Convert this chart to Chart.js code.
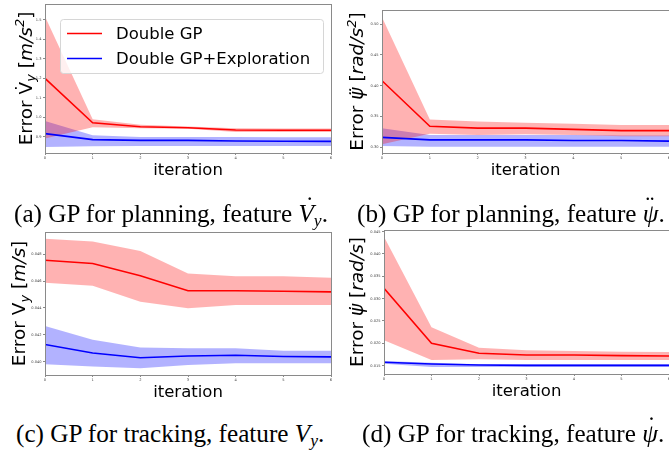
<!DOCTYPE html>
<html>
<head>
<meta charset="utf-8">
<script src="https://cdn.jsdelivr.net/npm/chart.js@4.4.1/dist/chart.umd.min.js"></script>
<style>
  body { margin: 0; width: 669px; height: 450px; overflow: hidden; background: #fff; position: relative; }
  canvas { position: absolute; }
  .cap { position: absolute; font-family: "Liberation Serif", serif; font-size: 25.2px; white-space: nowrap; color: #000; line-height: 1; }
  .cap i { font-style: italic; }
  .cap sub { font-size: 70%; vertical-align: -0.25em; font-style: italic; }
  .acc { position: relative; display: inline-block; font-style: italic; }
  .acc .top { position: absolute; top: -0.3em; font-style: normal; }
</style>
</head>
<body>
<canvas id="chartA" width="340" height="180" style="left:0;top:0"></canvas>
<canvas id="chartB" width="339" height="180" style="left:330px;top:0"></canvas>
<canvas id="chartC" width="340" height="180" style="left:0;top:225px"></canvas>
<canvas id="chartD" width="339" height="180" style="left:330px;top:225px"></canvas>

<div class="cap" style="left:14px;top:201px">(a) GP for planning, feature <span class="acc">V<span class="top" style="left:0.28em">&#729;</span></span><sub>y</sub>.</div>
<div class="cap" style="left:357px;top:201px">(b) GP for planning, feature <span class="acc">&psi;<span class="top" style="left:0.12em">&#168;</span></span>.</div>
<div class="cap" style="left:16px;top:421px">(c) GP for tracking, feature <i>V</i><sub>y</sub>.</div>
<div class="cap" style="left:362px;top:421px">(d) GP for tracking, feature <span class="acc">&psi;<span class="top" style="left:0.2em">&#729;</span></span>.</div>

<script>
const iterations = [0, 1, 2, 3, 4, 5, 6];
const seriesNames = ['Double GP', 'Double GP+Exploration'];

// (a) GP for planning, feature dVy
const aGpMean  = [1.200, 0.972, 0.952, 0.947, 0.935, 0.934, 0.934];
const aGpUpper = [1.517, 0.991, 0.962, 0.953, 0.944, 0.943, 0.943];
const aGpLower = [0.892, 0.950, 0.944, 0.942, 0.925, 0.925, 0.925];
const aExMean  = [0.917, 0.886, 0.882, 0.882, 0.879, 0.878, 0.877];
const aExUpper = [0.982, 0.909, 0.900, 0.900, 0.899, 0.898, 0.898];
const aExLower = [0.848, 0.852, 0.853, 0.853, 0.853, 0.853, 0.853];
const aTicks = [0.9, 1.0, 1.1, 1.2, 1.3, 1.4, 1.5];
const aRange = [0.8175, 1.581];

// (b) GP for planning, feature ddpsi
const bGpMean  = [0.408, 0.334, 0.331, 0.331, 0.329, 0.327, 0.327];
const bGpUpper = [0.511, 0.345, 0.342, 0.340, 0.338, 0.336, 0.336];
const bGpLower = [0.305, 0.322, 0.320, 0.321, 0.320, 0.318, 0.318];
const bExMean  = [0.316, 0.312, 0.312, 0.312, 0.311, 0.311, 0.310];
const bExUpper = [0.331, 0.320, 0.320, 0.320, 0.320, 0.319, 0.319];
const bExLower = [0.302, 0.301, 0.301, 0.301, 0.301, 0.301, 0.301];
const bTicks = [0.30, 0.35, 0.40, 0.45, 0.50];
const bRange = [0.2907, 0.5228];

// (c) GP for tracking, feature Vy
const cGpMean  = [0.04756, 0.04731, 0.04640, 0.04528, 0.04528, 0.04525, 0.04520];
const cGpUpper = [0.04916, 0.04896, 0.04825, 0.04657, 0.04637, 0.04637, 0.04625];
const cGpLower = [0.04588, 0.04565, 0.04447, 0.04398, 0.04422, 0.04422, 0.04422];
const cExMean  = [0.04128, 0.04065, 0.04029, 0.04043, 0.04048, 0.04039, 0.04036];
const cExUpper = [0.04265, 0.04164, 0.04106, 0.04101, 0.04101, 0.04082, 0.04082];
const cExLower = [0.03981, 0.03964, 0.03952, 0.03976, 0.03988, 0.03988, 0.03988];
const cTicks = [0.040, 0.042, 0.044, 0.046, 0.048];
const cRange = [0.03901, 0.04966];

// (d) GP for tracking, feature dpsi
const dGpMean  = [0.03231, 0.02000, 0.01776, 0.01739, 0.01739, 0.01724, 0.01716];
const dGpUpper = [0.04388, 0.02358, 0.01903, 0.01843, 0.01828, 0.01813, 0.01806];
const dGpLower = [0.02067, 0.01627, 0.01642, 0.01627, 0.01627, 0.01627, 0.01627];
const dExMean  = [0.01575, 0.01537, 0.01515, 0.01507, 0.01507, 0.01507, 0.01507];
const dExUpper = [0.01604, 0.01567, 0.01530, 0.01530, 0.01530, 0.01530, 0.01530];
const dExLower = [0.01545, 0.01470, 0.01470, 0.01470, 0.01470, 0.01470, 0.01470];
const dTicks = [0.015, 0.020, 0.025, 0.030, 0.035, 0.040, 0.045];
const dRange = [0.01313, 0.04537];

const RED = '#ff0000';
const BLUE = '#0000ff';
const RED_BAND = 'rgba(255,0,0,0.3)';
const BLUE_BAND = 'rgba(0,0,255,0.3)';
const SPINE = '#8a8a8a';
const FONT = 'DejaVu Sans';
const XTITLE_SIZE = 16.5;
const YTITLE_SIZE = 18.5;

function pts(arr) {
  return arr.map((v, i) => ({ x: iterations[i], y: v }));
}

function band(upper, lower, color) {
  return [
    { label: '', data: pts(upper), borderColor: 'rgba(0,0,0,0)', pointRadius: 0, fill: '+1', backgroundColor: color },
    { label: '', data: pts(lower), borderColor: 'rgba(0,0,0,0)', pointRadius: 0, fill: false }
  ];
}

// rotated axis label built from normal / italic / sub / sup pieces
function drawRich(ctx, parts, x, cy) {
  const S = YTITLE_SIZE;
  const fontOf = p => (p.it ? 'italic ' : '') + ((p.sub || p.sup) ? S * 0.7 : S) + 'px "' + FONT + '"';
  let total = 0;
  parts.forEach(p => { ctx.font = fontOf(p); p.w = ctx.measureText(p.t).width; total += p.w; });
  ctx.save();
  ctx.translate(x, cy);
  ctx.rotate(-Math.PI / 2);
  ctx.textBaseline = 'alphabetic';
  ctx.textAlign = 'left';
  ctx.fillStyle = '#000';
  let pos = -total / 2;
  parts.forEach(p => {
    ctx.font = fontOf(p);
    const dy = p.sub ? S * 0.2 : (p.sup ? -S * 0.42 : 0);
    ctx.fillText(p.t, pos, dy);
    pos += p.w;
  });
  ctx.restore();
}

const framePlugin = {
  id: 'frame',
  afterDraw(chart, args, o) {
    const ctx = chart.ctx;
    const a = chart.chartArea;
    ctx.save();
    ctx.strokeStyle = SPINE;
    ctx.lineWidth = 1;
    ctx.strokeRect(Math.round(a.left) + 0.5, Math.round(a.top) + 0.5,
      Math.round(a.right) - Math.round(a.left), Math.round(a.bottom) - Math.round(a.top));

    ctx.fillStyle = '#000';
    ctx.font = XTITLE_SIZE + 'px "' + FONT + '"';
    ctx.textAlign = 'center';
    ctx.textBaseline = 'alphabetic';
    ctx.fillText('iteration', (a.left + a.right) / 2, a.bottom + 22);
    drawRich(ctx, o.yTitle, o.yTitleX, (a.top + a.bottom) / 2);

    if (o.legend) {
      const L = o.legend;
      ctx.beginPath();
      ctx.roundRect(L.x + 0.5, L.y + 0.5, L.w, L.h, 3);
      ctx.fillStyle = 'rgba(255,255,255,0.8)';
      ctx.fill();
      ctx.strokeStyle = '#d6d6d6';
      ctx.stroke();
      const items = chart.data.datasets.filter(d => d.label);
      items.forEach((d, i) => {
        const yy = L.y + 14.5 + i * 25;
        ctx.strokeStyle = d.borderColor;
        ctx.lineWidth = 1.6;
        ctx.beginPath();
        ctx.moveTo(L.x + 7, yy);
        ctx.lineTo(L.x + 42, yy);
        ctx.stroke();
        ctx.fillStyle = '#000';
        ctx.font = XTITLE_SIZE + 'px "' + FONT + '"';
        ctx.textAlign = 'left';
        ctx.textBaseline = 'middle';
        ctx.fillText(d.label, L.x + 56, yy + 1);
      });
    }
    ctx.restore();
  }
};

function makeChart(id, p) {
  const el = document.getElementById(id);
  const W = el.width, H = el.height;
  return new Chart(el, {
    type: 'line',
    data: {
      datasets: [
        ...band(p.gpUpper, p.gpLower, RED_BAND),
        ...band(p.exUpper, p.exLower, BLUE_BAND),
        { label: seriesNames[0], data: pts(p.gpMean), borderColor: RED, borderWidth: 1.6, pointRadius: 0, fill: false, tension: 0 },
        { label: seriesNames[1], data: pts(p.exMean), borderColor: BLUE, borderWidth: 1.6, pointRadius: 0, fill: false, tension: 0 }
      ]
    },
    options: {
      responsive: false,
      animation: false,
      events: [],
      layout: { autoPadding: false, padding: { left: 0, top: p.area.t, right: W - p.area.r, bottom: 0 } },
      plugins: {
        legend: { display: false },
        tooltip: { enabled: false },
        filler: { drawTime: 'beforeDatasetsDraw' },
        frame: { yTitle: p.yTitle, yTitleX: p.yTitleX, legend: p.legend }
      },
      scales: {
        x: {
          type: 'linear', min: iterations[0], max: iterations[iterations.length - 1],
          afterBuildTicks: s => { s.ticks = iterations.map(v => ({ value: v })); },
          afterFit: s => { s.height = H - p.area.b; s.paddingLeft = 0; s.paddingRight = 0; },
          ticks: { font: { family: FONT, size: 3.6 }, color: '#444', padding: 1, maxRotation: 0, callback: v => String(v) },
          grid: { drawOnChartArea: false, tickLength: 2, color: SPINE },
          border: { display: false }
        },
        y: {
          type: 'linear', min: p.range[0], max: p.range[1],
          afterBuildTicks: s => { s.ticks = p.ticks.map(v => ({ value: v })); },
          afterFit: s => { s.width = p.area.l; s.paddingTop = 0; s.paddingBottom = 0; },
          ticks: { font: { family: FONT, size: 3.6 }, color: '#444', padding: 1.5, callback: v => v.toFixed(p.dec) },
          grid: { drawOnChartArea: false, tickLength: 2, color: SPINE },
          border: { display: false }
        }
      }
    },
    plugins: [framePlugin]
  });
}

makeChart('chartA', {
  gpMean: aGpMean, gpUpper: aGpUpper, gpLower: aGpLower,
  exMean: aExMean, exUpper: aExUpper, exLower: aExLower,
  ticks: aTicks, range: aRange, dec: 1,
  area: { l: 45, t: 4, r: 331, b: 153 },
  yTitleX: 31.5,
  yTitle: [{ t: 'Error ' }, { t: 'V\u0307' }, { t: 'y', sub: true, it: true }, { t: ' [' }, { t: 'm/s', it: true }, { t: '2', sup: true, it: true }, { t: ']' }],
  legend: { x: 60, y: 19, w: 263, h: 54 }
});

makeChart('chartB', {
  gpMean: bGpMean, gpUpper: bGpUpper, gpLower: bGpLower,
  exMean: bExMean, exUpper: bExUpper, exLower: bExLower,
  ticks: bTicks, range: bRange, dec: 2,
  area: { l: 52, t: 10, r: 339, b: 153 },
  yTitleX: 33.3,
  yTitle: [{ t: 'Error ' }, { t: '\u03c8\u0308', it: true }, { t: ' [' }, { t: 'rad/s', it: true }, { t: '2', sup: true, it: true }, { t: ']' }]
});

makeChart('chartC', {
  gpMean: cGpMean, gpUpper: cGpUpper, gpLower: cGpLower,
  exMean: cExMean, exUpper: cExUpper, exLower: cExLower,
  ticks: cTicks, range: cRange, dec: 3,
  area: { l: 45, t: 7, r: 331, b: 150 },
  yTitleX: 25,
  yTitle: [{ t: 'Error ' }, { t: 'V' }, { t: 'y', sub: true, it: true }, { t: ' [' }, { t: 'm/s', it: true }, { t: ']' }]
});

makeChart('chartD', {
  gpMean: dGpMean, gpUpper: dGpUpper, gpLower: dGpLower,
  exMean: dExMean, exUpper: dExUpper, exLower: dExLower,
  ticks: dTicks, range: dRange, dec: 3,
  area: { l: 54, t: 5, r: 339, b: 149 },
  yTitleX: 33.3,
  yTitle: [{ t: 'Error ' }, { t: '\u03c8\u0307', it: true }, { t: ' [' }, { t: 'rad/s', it: true }, { t: ']' }]
});
</script>
</body>
</html>
